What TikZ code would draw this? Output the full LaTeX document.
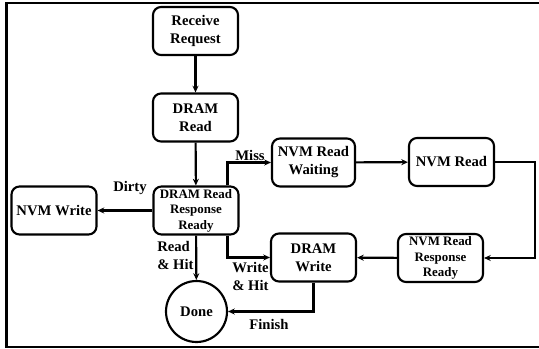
\documentclass[tikz,border=0pt]{standalone}
\usepackage{fontspec}
\setmainfont{Liberation Serif}
\usetikzlibrary{arrows.meta,calc}
\begin{document}
\begin{tikzpicture}[x=0.75pt,y=-0.75pt,
  box/.style={draw,line width=1.6pt,rounded corners=6pt,minimum width=63.75pt,minimum height=36pt,inner sep=1pt,align=center,font=\fontsize{11}{13.5}\selectfont\bfseries},
  smallbox/.style={box,font=\fontsize{9.7}{11.6}\selectfont\bfseries},
  lab/.style={font=\fontsize{11}{13.5}\selectfont\bfseries,inner sep=0pt,align=left},
  arr/.style={line width=1.6pt,-{Stealth[length=5pt,width=4.5pt]}}]
\useasboundingbox (0,0) rectangle (539,349);
\draw[line width=1.6pt] (539,3) -- (6.5,3) -- (6.5,347) -- (539,347);

\node[box] (rr) at (195.5,31) {Receive\\Request};
\node[box] (dr) at (195.5,117.5) {DRAM\\Read};
\node[smallbox] (drr) at (196,210.5) {DRAM Read\\Response\\Ready};
\node[box] (nw) at (54,210.5) {NVM Write};
\node[box,minimum width=62.25pt] (nrw) at (313.5,162.5) {NVM Read\\Waiting};
\node[box] (nr) at (451.5,162) {NVM Read};
\node[smallbox] (nrr) at (440.5,258) {NVM Read\\Response\\Ready};
\node[box] (dw) at (313.5,257.5) {DRAM\\Write};
\node[draw,circle,line width=1.6pt,minimum size=45.75pt,inner sep=0pt,font=\fontsize{11}{13.5}\selectfont\bfseries] (done) at (196.5,311.5) {Done};

\coordinate (mx) at (227.5,0);
\coordinate (rt) at (535,200);

\draw[arr] (rr) -- (dr);
\draw[arr] (dr) -- (drr);
\draw[arr] (drr) -- (nw);
\draw[arr] (drr.north -| mx) |- (nrw);
\draw[arr] (nrw) -- (nr);
\draw[arr] (nr.east) -| (rt) |- (nrr.east);
\draw[arr] (nrr) -- (dw);
\draw[arr] (drr.south -| mx) |- (dw);
\draw[arr] (drr) -- (done);
\draw[arr] (dw.south) |- (done.east);

\node[lab] (lmiss) at (250,155) {Miss};
\node[lab] (ldirty) at (130,188) {Dirty};
\node[lab,anchor=west] (lread) at (157,255) {Read\\\& Hit};
\node[lab,anchor=west] (lwrite) at (232,276) {Write\\\& Hit};
\node[lab] (lfin) at (269,324) {Finish};
\end{tikzpicture}
\end{document}
